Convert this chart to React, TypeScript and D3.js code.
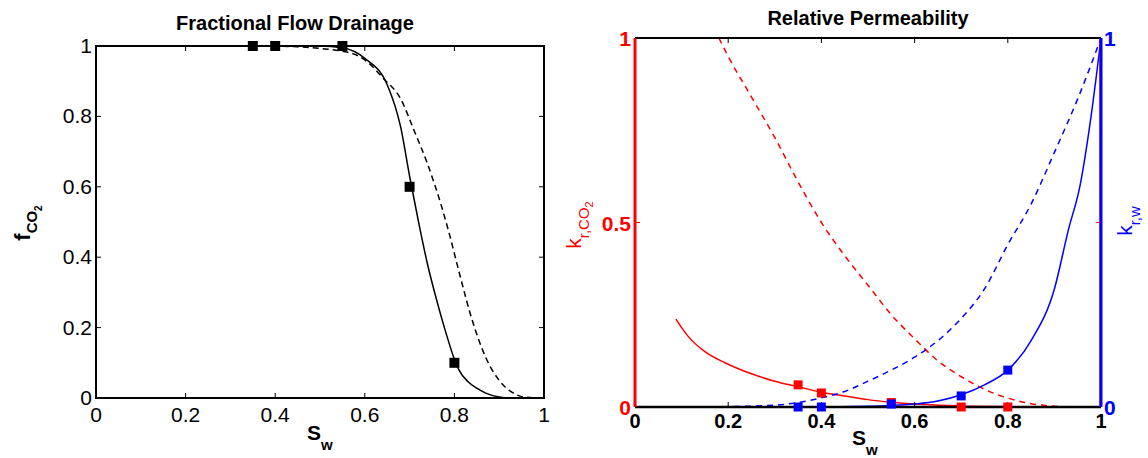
import React from "react";
import * as d3 from "d3";

// ---------- data ----------
// Left: fractional flow of CO2 vs water saturation
const ffSwSolid = [0.35, 0.4, 0.5, 0.55, 0.6, 0.65, 0.68, 0.7, 0.72, 0.74, 0.76, 0.78, 0.8, 0.81, 0.83, 0.85, 0.87, 0.9, 0.93, 1];
const ffSolid = [1, 1, 1, 0.995, 0.965, 0.89, 0.77, 0.63, 0.5, 0.38, 0.28, 0.19, 0.11, 0.08, 0.047, 0.028, 0.014, 0.003, 0, 0];
const ffSwDashed = [0.35, 0.45, 0.5, 0.55, 0.58, 0.61, 0.64, 0.68, 0.71, 0.74, 0.77, 0.79, 0.81, 0.84, 0.87, 0.9, 0.93, 0.96, 1];
const ffDashed = [1, 0.998, 0.993, 0.985, 0.975, 0.95, 0.91, 0.85, 0.76, 0.665, 0.55, 0.46, 0.36, 0.22, 0.115, 0.05, 0.015, 0.002, 0];
const ffMarkSw = [0.35, 0.4, 0.55, 0.7, 0.8];
const ffMark = [1, 1, 1, 0.6, 0.1];

// Right: relative permeabilities
const krCo2DashSw = [0.18, 0.2, 0.25, 0.3, 0.35, 0.4, 0.45, 0.5, 0.55, 0.6, 0.65, 0.7, 0.75, 0.8, 0.85, 0.9, 0.95, 1];
const krCo2Dash = [1.0, 0.95, 0.84, 0.73, 0.61, 0.5, 0.41, 0.33, 0.25, 0.185, 0.125, 0.082, 0.048, 0.024, 0.009, 0.002, 0, 0];
const krCo2SolidSw = [0.088, 0.1, 0.115, 0.15, 0.193, 0.25, 0.3, 0.35, 0.4, 0.45, 0.5, 0.55, 0.6, 0.65, 0.7, 0.8, 0.9, 1];
const krCo2Solid = [0.238, 0.215, 0.19, 0.15, 0.12, 0.09, 0.07, 0.055, 0.04, 0.03, 0.02, 0.013, 0.008, 0.005, 0.003, 0.001, 0, 0];
const krCo2MarkSw = [0.35, 0.4, 0.55, 0.7, 0.8];
const krCo2Mark = [0.06, 0.038, 0.012, 0, 0];

const krwDashSw = [0, 0.1, 0.2, 0.3, 0.35, 0.4, 0.45, 0.5, 0.55, 0.6, 0.65, 0.7, 0.75, 0.8, 0.85, 0.9, 0.95, 1];
const krwDash = [0, 0, 0.001, 0.005, 0.012, 0.025, 0.042, 0.07, 0.1, 0.135, 0.18, 0.24, 0.32, 0.44, 0.55, 0.69, 0.835, 1];
const krwSolidSw = [0, 0.2, 0.4, 0.5, 0.55, 0.6, 0.65, 0.7, 0.75, 0.8, 0.85, 0.9, 0.93, 0.955, 0.98, 1];
const krwSolid = [0, 0, 0, 0.002, 0.004, 0.008, 0.016, 0.033, 0.06, 0.1, 0.18, 0.32, 0.48, 0.6, 0.8, 1];
const krwMarkSw = [0.35, 0.4, 0.55, 0.7, 0.8];
const krwMark = [0, 0, 0.008, 0.03, 0.1];

const xTicks = [0, 0.2, 0.4, 0.6, 0.8, 1];
const leftYTicks = [0, 0.2, 0.4, 0.6, 0.8, 1];
const krTicks = [0, 0.5, 1];

const FONT = "'Liberation Sans', Arial, Helvetica, sans-serif";
const RED = "#ff0000";
const BLUE = "#0000ff";

type P = [number, number];
const zip = (a: number[], b: number[]): P[] => a.map((v, i) => [v, b[i]]);

function Squares({ pts, x, y, size, fill }: { pts: P[]; x: any; y: any; size: number; fill: string }) {
  return (
    <g>
      {pts.map((p, i) => (
        <rect key={i} x={x(p[0]) - size / 2} y={y(p[1]) - size / 2} width={size} height={size} fill={fill} />
      ))}
    </g>
  );
}

function LeftChart() {
  const x = d3.scaleLinear().domain([0, 1]).range([96, 544]);
  const y = d3.scaleLinear().domain([0, 1]).range([398, 46]);
  const line = d3
    .line<P>()
    .x((d) => x(d[0]))
    .y((d) => y(d[1]))
    .curve(d3.curveMonotoneX);
  const tl = 5;
  return (
    <g fontFamily={FONT}>
      <text x={295} y={30} textAnchor="middle" fontSize={20} fontWeight="bold">
        Fractional Flow Drainage
      </text>
      <path d={line(zip(ffSwDashed, ffDashed)) || ""} fill="none" stroke="#000" strokeWidth={1.5} strokeDasharray="6,4" />
      <path d={line(zip(ffSwSolid, ffSolid)) || ""} fill="none" stroke="#000" strokeWidth={1.5} />
      {/* box */}
      <rect x={x(0)} y={y(1)} width={x(1) - x(0)} height={y(0) - y(1)} fill="none" stroke="#000" strokeWidth={2} />
      {xTicks.map((t) => (
        <g key={"x" + t}>
          <line x1={x(t)} x2={x(t)} y1={y(0)} y2={y(0) - tl} stroke="#000" strokeWidth={1} />
          <line x1={x(t)} x2={x(t)} y1={y(1)} y2={y(1) + tl} stroke="#000" strokeWidth={1} />
          <text x={x(t)} y={y(0) + 24} textAnchor="middle" fontSize={21}>
            {d3.format("~g")(t)}
          </text>
        </g>
      ))}
      {leftYTicks.map((t) => (
        <g key={"y" + t}>
          <line x1={x(0)} x2={x(0) + tl} y1={y(t)} y2={y(t)} stroke="#000" strokeWidth={1} />
          <line x1={x(1)} x2={x(1) - tl} y1={y(t)} y2={y(t)} stroke="#000" strokeWidth={1} />
          <text x={x(0) - 4} y={y(t) + 7} textAnchor="end" fontSize={21}>
            {d3.format("~g")(t)}
          </text>
        </g>
      ))}
      <Squares pts={zip(ffMarkSw, ffMark)} x={x} y={y} size={10} fill="#000" />
      {/* x label */}
      <text x={307} y={440} fontSize={21} fontWeight="bold">
        S
        <tspan fontSize={15} dy={10}>w</tspan>
      </text>
      {/* y label */}
      <text transform="translate(30,223) rotate(-90)" textAnchor="middle" fontSize={22} fontWeight="bold">
        f
        <tspan fontSize={15} dy={7}>CO</tspan>
        <tspan fontSize={10} dy={5}>2</tspan>
      </text>
    </g>
  );
}

function RightChart() {
  const x = d3.scaleLinear().domain([0, 1]).range([635, 1101]);
  const y = d3.scaleLinear().domain([0, 1]).range([407, 38]);
  const line = d3
    .line<P>()
    .x((d) => x(d[0]))
    .y((d) => y(d[1]))
    .curve(d3.curveMonotoneX);
  const tl = 5;
  return (
    <g fontFamily={FONT}>
      <text x={868} y={25} textAnchor="middle" fontSize={20} fontWeight="bold">
        Relative Permeability
      </text>
      <path d={line(zip(krCo2SolidSw, krCo2Solid)) || ""} fill="none" stroke={RED} strokeWidth={1.5} />
      <path d={line(zip(krCo2DashSw, krCo2Dash)) || ""} fill="none" stroke={RED} strokeWidth={1.5} strokeDasharray="6,5" />
      <path d={line(zip(krwDashSw, krwDash)) || ""} fill="none" stroke={BLUE} strokeWidth={1.5} strokeDasharray="6,5" />
      <path d={line(zip(krwSolidSw, krwSolid)) || ""} fill="none" stroke={BLUE} strokeWidth={1.5} />
      {/* top & bottom black */}
      <line x1={x(0)} x2={x(1)} y1={y(1)} y2={y(1)} stroke="#000" strokeWidth={2} />
      <line x1={x(0)} x2={x(1)} y1={y(0)} y2={y(0)} stroke="#000" strokeWidth={2.5} />
      {xTicks.map((t) => (
        <g key={"x" + t}>
          {t > 0 && t < 1 && (
            <>
              <line x1={x(t)} x2={x(t)} y1={y(0)} y2={y(0) - tl} stroke="#000" strokeWidth={1} />
              <line x1={x(t)} x2={x(t)} y1={y(1)} y2={y(1) + tl} stroke="#000" strokeWidth={1} />
            </>
          )}
          <text x={x(t)} y={y(0) + 21} textAnchor="middle" fontSize={20} fontWeight="bold">
            {d3.format("~g")(t)}
          </text>
        </g>
      ))}
      {/* red left axis */}
      <line x1={x(0)} x2={x(0)} y1={y(0)} y2={y(1)} stroke={RED} strokeWidth={3} />
      <line x1={x(1) - 1.5} x2={x(1) - 1.5} y1={y(0)} y2={y(1)} stroke={RED} strokeWidth={1} opacity={0.6} />
      {krTicks.map((t) => (
        <g key={"r" + t}>
          {t === 0.5 && (
            <>
              <line x1={x(0)} x2={x(0) + tl} y1={y(t)} y2={y(t)} stroke={RED} strokeWidth={1} />
              <line x1={x(1)} x2={x(1) - tl} y1={y(t)} y2={y(t)} stroke={RED} strokeWidth={1} />
            </>
          )}
          <text x={x(0) - 4} y={y(t) + 8} textAnchor="end" fontSize={21} fontWeight="bold" fill={RED}>
            {d3.format("~g")(t)}
          </text>
        </g>
      ))}
      {/* blue right axis */}
      <line x1={x(1)} x2={x(1)} y1={y(0)} y2={y(1)} stroke={BLUE} strokeWidth={3} />
      {[0, 1].map((t) => (
        <text key={"b" + t} x={x(1) + 3} y={y(t) + 8} textAnchor="start" fontSize={21} fontWeight="bold" fill={BLUE}>
          {d3.format("~g")(t)}
        </text>
      ))}
      <Squares pts={zip(krCo2MarkSw, krCo2Mark)} x={x} y={y} size={9} fill={RED} />
      <Squares pts={zip(krwMarkSw, krwMark)} x={x} y={y} size={9} fill={BLUE} />
      {/* x label */}
      <text x={852} y={445} fontSize={21} fontWeight="bold">
        S
        <tspan fontSize={15} dy={10}>w</tspan>
      </text>
      {/* left y label */}
      <text transform="translate(581,225) rotate(-90)" textAnchor="middle" fontSize={21} fill={RED}>
        k
        <tspan fontSize={15} dy={8}>r,CO</tspan>
        <tspan fontSize={11} dy={4}>2</tspan>
      </text>
      {/* right y label */}
      <text transform="translate(1132,221) rotate(-90)" textAnchor="middle" fontSize={21} fill={BLUE}>
        k
        <tspan fontSize={15} dy={8}>r,w</tspan>
      </text>
    </g>
  );
}

export default function App() {
  return (
    <svg
      width={1148}
      height={458}
      viewBox="0 0 1148 458"
      style={{ position: "absolute", left: 0, top: 0, background: "#fff" }}
    >
      <rect width={1148} height={458} fill="#fff" />
      <LeftChart />
      <RightChart />
    </svg>
  );
}
